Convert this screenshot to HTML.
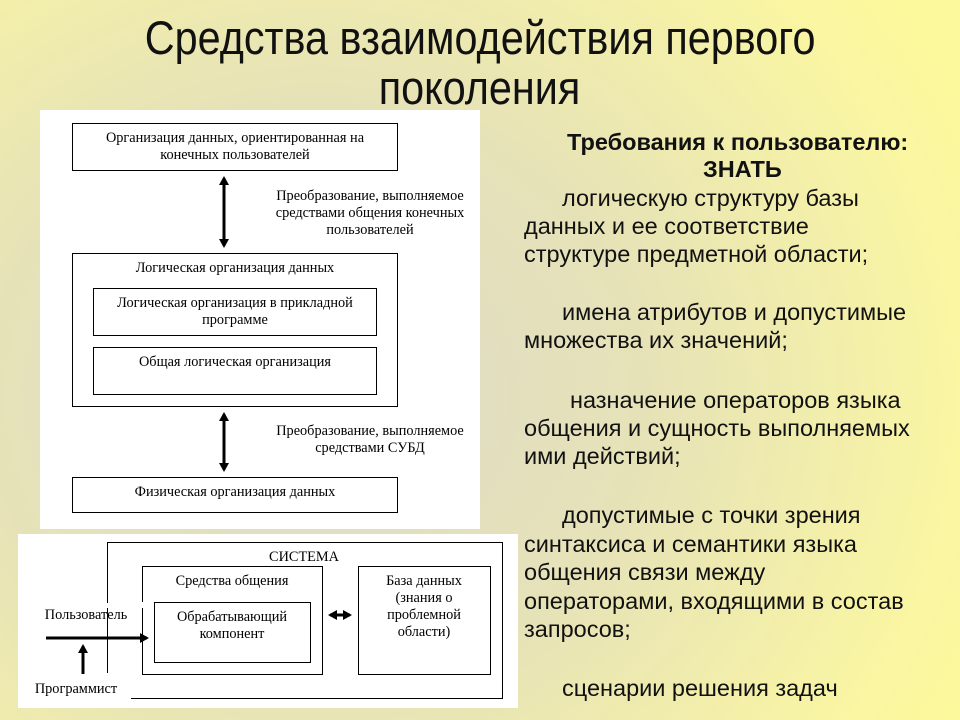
<!DOCTYPE html>
<html><head><meta charset="utf-8"><style>
body{margin:0;width:960px;height:720px;overflow:hidden;position:relative;
background:radial-gradient(ellipse 75% 90% at 33% 55%, #dedbc8 0%, #e6e2b8 45%, #faf6a2 90%, #fcf89c 100%);
font-family:"Liberation Sans",sans-serif;}
.t{position:absolute;left:0;width:960px;text-align:center;font-size:47px;color:#111;line-height:54px;}
.t span{display:inline-block;transform:scaleX(0.88);}
.r{position:absolute;font-size:23.5px;color:#111;white-space:nowrap;line-height:28px;}
</style></head><body>
<div class="t" style="top:11px"><span>Средства взаимодействия первого</span></div>
<div class="t" style="top:61px"><span>поколения</span></div>

<svg width="960" height="720" style="position:absolute;left:0;top:0" font-family="Liberation Serif,serif" font-size="14.3" fill="#000">
<defs>
<marker id="a" markerWidth="10" markerHeight="10" refX="7" refY="5" orient="auto-start-reverse" markerUnits="userSpaceOnUse"><path d="M0,0 L9,5 L0,10 Z" fill="#000"/></marker>
</defs>
<rect x="40" y="110" width="440" height="419" fill="#fff"/>
<g stroke="#000" fill="none" stroke-width="1">
<rect x="72.5" y="123.5" width="325" height="47"/>
<rect x="72.5" y="253.5" width="325" height="153"/>
<rect x="93.5" y="288.5" width="283" height="47"/>
<rect x="93.5" y="347.5" width="283" height="47"/>
<rect x="72.5" y="477.5" width="325" height="35"/>
<line x1="224" y1="178" x2="224" y2="246" stroke-width="3" marker-start="url(#a)" marker-end="url(#a)"/>
<line x1="224" y1="414" x2="224" y2="470" stroke-width="3" marker-start="url(#a)" marker-end="url(#a)"/>
</g>
<g text-anchor="middle">
<text x="235" y="142">Организация данных, ориентированная на</text>
<text x="235" y="159">конечных пользователей</text>
<text x="370" y="200">Преобразование, выполняемое</text>
<text x="370" y="217">средствами общения конечных</text>
<text x="370" y="234">пользователей</text>
<text x="235" y="272">Логическая организация данных</text>
<text x="235" y="307">Логическая организация в прикладной</text>
<text x="235" y="324">программе</text>
<text x="235" y="366">Общая логическая организация</text>
<text x="370" y="435">Преобразование, выполняемое</text>
<text x="370" y="452">средствами СУБД</text>
<text x="235" y="496">Физическая организация данных</text>
</g>

<rect x="18" y="534" width="500" height="174" fill="#fff"/>
<g stroke="#000" fill="none" stroke-width="1">
<polyline points="107.5,603 107.5,542.5 502.5,542.5 502.5,698.5 131,698.5"/>
<line x1="107.5" y1="608" x2="107.5" y2="673"/>
<polyline points="142.5,602 142.5,566.5 322.5,566.5 322.5,674.5 142.5,674.5 142.5,608"/>
<rect x="154.5" y="602.5" width="156" height="60"/>
<rect x="358.5" y="566.5" width="132" height="108"/>
<line x1="46" y1="638" x2="147" y2="638" stroke-width="3" marker-end="url(#a)"/>
<line x1="83" y1="674" x2="83" y2="646" stroke-width="3" marker-end="url(#a)"/>
<line x1="330" y1="615" x2="350" y2="615" stroke-width="3" marker-start="url(#a)" marker-end="url(#a)"/>
</g>
<g text-anchor="middle">
<text x="304" y="561">СИСТЕМА</text>
<text x="232" y="585">Средства общения</text>
<text x="232" y="621">Обрабатывающий</text>
<text x="232" y="638">компонент</text>
<text x="424" y="585">База данных</text>
<text x="424" y="602">(знания о</text>
<text x="424" y="619">проблемной</text>
<text x="424" y="636">области)</text>
<text x="86" y="619">Пользователь</text>
<text x="76" y="693">Программист</text>
</g>
</svg>

<div class="r" style="left:567px;top:128px;font-weight:bold">Требования к пользователю:</div>
<div class="r" style="left:703px;top:155px;font-weight:bold">ЗНАТЬ</div>
<div class="r" style="left:562px;top:184px">логическую структуру базы</div>
<div class="r" style="left:524px;top:212px">данных и ее соответствие</div>
<div class="r" style="left:524px;top:240px">структуре предметной области;</div>
<div class="r" style="left:562px;top:298px">имена атрибутов и допустимые</div>
<div class="r" style="left:524px;top:326px">множества их значений;</div>
<div class="r" style="left:570px;top:386px">назначение операторов языка</div>
<div class="r" style="left:524px;top:414px">общения и сущность выполняемых</div>
<div class="r" style="left:524px;top:442px">ими действий;</div>
<div class="r" style="left:562px;top:501px">допустимые с точки зрения</div>
<div class="r" style="left:524px;top:530px">синтаксиса и семантики языка</div>
<div class="r" style="left:524px;top:558px">общения связи между</div>
<div class="r" style="left:524px;top:587px">операторами, входящими в состав</div>
<div class="r" style="left:524px;top:615px">запросов;</div>
<div class="r" style="left:562px;top:674px">сценарии решения задач</div>
</body></html>
